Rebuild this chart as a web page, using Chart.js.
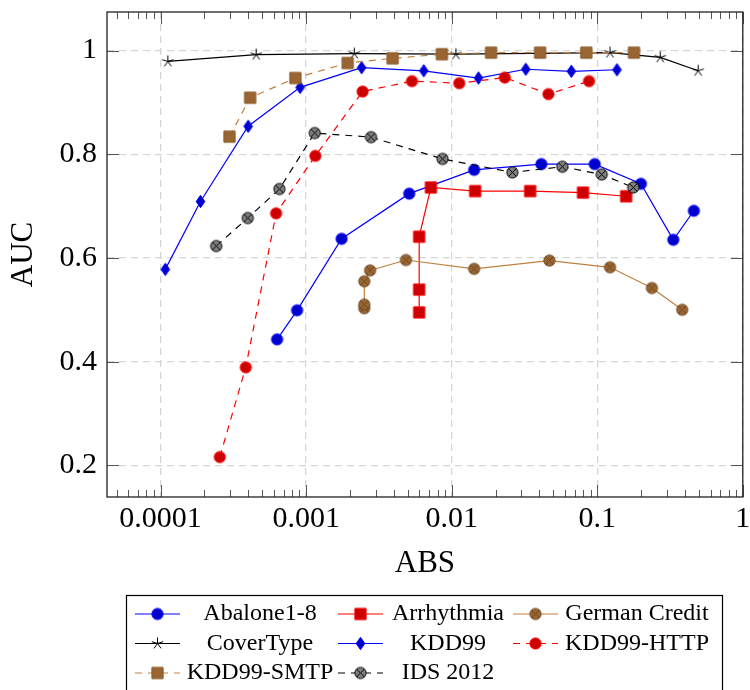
<!DOCTYPE html>
<html>
<head>
<meta charset="utf-8">
<title>AUC vs ABS</title>
<script src="https://cdn.jsdelivr.net/npm/chart.js@4.4.0/dist/chart.umd.min.js"></script>
<style>
  html, body { margin: 0; padding: 0; background: #fff; }
  canvas { display: block; }
</style>
</head>
<body>
<canvas id="chart" width="750" height="690"></canvas>
<script>
// ABS (x, log scale) and AUC (y) for each data set
const abaloneAbs = [6.32e-4, 8.67e-4, 1.753e-3, 5.11e-3, 0.01427, 0.0413, 0.0961, 0.1995, 0.333, 0.461];
const abaloneAuc = [0.443, 0.499, 0.637, 0.724, 0.770, 0.781, 0.781, 0.743, 0.635, 0.691];

const arrhythmiaAbs = [5.98e-3, 5.98e-3, 5.98e-3, 7.20e-3, 0.0145, 0.0346, 0.0798, 0.158];
const arrhythmiaAuc = [0.495, 0.539, 0.641, 0.736, 0.729, 0.729, 0.726, 0.719];

const germanAbs = [2.51e-3, 2.51e-3, 2.51e-3, 2.75e-3, 4.85e-3, 0.01427, 0.0469, 0.1224, 0.2374, 0.3834];
const germanAuc = [0.503, 0.510, 0.555, 0.576, 0.596, 0.579, 0.595, 0.582, 0.542, 0.500];

const coverAbs = [1.122e-4, 4.535e-4, 2.143e-3, 0.01069, 0.1224, 0.2708, 0.4935];
const coverAuc = [0.979, 0.992, 0.994, 0.993, 0.996, 0.987, 0.961];

const kddAbs = [1.077e-4, 1.88e-4, 3.996e-4, 9.09e-4, 2.405e-3, 6.43e-3, 0.01527, 0.0323, 0.0664, 0.1366];
const kddAuc = [0.578, 0.709, 0.854, 0.929, 0.967, 0.961, 0.947, 0.964, 0.960, 0.963];

const httpAbs = [2.552e-4, 3.848e-4, 6.22e-4, 1.157e-3, 2.443e-3, 5.33e-3, 0.01126, 0.02317, 0.0462, 0.0878];
const httpAuc = [0.216, 0.389, 0.686, 0.797, 0.921, 0.941, 0.937, 0.948, 0.916, 0.941];

const smtpAbs = [2.975e-4, 4.124e-4, 8.44e-4, 1.928e-3, 3.925e-3, 8.57e-3, 0.01866, 0.0405, 0.0841, 0.1787];
const smtpAuc = [0.834, 0.909, 0.947, 0.976, 0.985, 0.993, 0.996, 0.996, 0.996, 0.996];

const idsAbs = [2.411e-4, 3.972e-4, 6.555e-4, 1.145e-3, 2.791e-3, 8.65e-3, 0.02614, 0.0576, 0.1073, 0.1768];
const idsAuc = [0.623, 0.677, 0.733, 0.841, 0.833, 0.791, 0.765, 0.776, 0.761, 0.736];

const seriesNames = ['Abalone1-8', 'Arrhythmia', 'German Credit', 'CoverType', 'KDD99',
                     'KDD99-HTTP', 'KDD99-SMTP', 'IDS 2012'];

const xTickValues = [0.0001, 0.001, 0.01, 0.1, 1];
const xTickLabels = ['0.0001', '0.001', '0.01', '0.1', '1'];
const yTickValues = [0.2, 0.4, 0.6, 0.8, 1];
const yTickLabels = ['0.2', '0.4', '0.6', '0.8', '1'];
const minorMultipliers = [2, 3, 4, 5, 6, 7, 8, 9];

const serif = "'Liberation Serif', 'DejaVu Serif', serif";

// small canvases used as point markers (pgfplots-like marks)
function makeMarker(kind, fill, stroke) {
  const c = document.createElement('canvas');
  c.width = 17; c.height = 17;
  const g = c.getContext('2d');
  g.translate(8.5, 8.5);
  g.lineWidth = 1;
  g.fillStyle = fill;
  g.strokeStyle = stroke;
  g.beginPath();
  if (kind === 'circle') {
    g.arc(0, 0, 5.6, 0, Math.PI * 2);
    g.fill(); g.stroke();
  } else if (kind === 'square') {
    g.rect(-5.6, -5.6, 11.2, 11.2);
    g.fill(); g.stroke();
  } else if (kind === 'diamond') {
    g.moveTo(0, -6.2); g.lineTo(4.3, 0); g.lineTo(0, 6.2); g.lineTo(-4.3, 0); g.closePath();
    g.fill(); g.stroke();
  } else if (kind === 'star') {
    for (let k = 0; k < 5; k++) {
      const a = -Math.PI / 2 + k * 2 * Math.PI / 5;
      g.moveTo(0, 0);
      g.lineTo(6 * Math.cos(a), 6 * Math.sin(a));
    }
    g.stroke();
  } else if (kind === 'otimes') {
    g.arc(0, 0, 5.6, 0, Math.PI * 2);
    g.fill(); g.stroke();
    g.beginPath();
    g.moveTo(-3.9, -3.9); g.lineTo(3.9, 3.9);
    g.moveTo(-3.9, 3.9); g.lineTo(3.9, -3.9);
    g.stroke();
  }
  return c;
}

const blue = '#0000ff', red = '#ff0000', brown = '#bf8040';
const dashed = [7, 6];

const styles = [
  { color: blue,   dash: [], marker: makeMarker('circle', '#0000cc', blue) },
  { color: red,    dash: [], marker: makeMarker('square', '#cc0000', red) },
  { color: brown,  dash: [], marker: makeMarker('otimes', '#996633', '#6e4720') },
  { color: '#000', dash: [], marker: makeMarker('star', '#000', '#000') },
  { color: blue,   dash: [], marker: makeMarker('diamond', '#0000cc', blue) },
  { color: red,    dash: dashed, marker: makeMarker('circle', '#cc0000', red) },
  { color: brown,  dash: dashed, marker: makeMarker('square', '#996633', '#8a5a2a') },
  { color: '#000', dash: dashed, marker: makeMarker('otimes', '#808080', '#000') }
];

const seriesData = [
  [abaloneAbs, abaloneAuc], [arrhythmiaAbs, arrhythmiaAuc], [germanAbs, germanAuc],
  [coverAbs, coverAuc], [kddAbs, kddAuc], [httpAbs, httpAuc], [smtpAbs, smtpAuc], [idsAbs, idsAuc]
];

const datasets = seriesData.map(([xs, ys], i) => ({
  label: seriesNames[i],
  data: xs.map((x, j) => ({ x: x, y: ys[j] })),
  showLine: true,
  borderColor: styles[i].color,
  borderWidth: 1.2,
  borderDash: styles[i].dash,
  backgroundColor: styles[i].color,
  pointStyle: styles[i].marker,
  pointRadius: 6,
  pointHoverRadius: 6,
  tension: 0,
  fill: false,
  order: seriesData.length - i   // later series on top, like pgfplots
}));

// frame, inward tick marks and the boxed 3-column legend
const decorations = {
  id: 'decorations',
  afterDraw(chart) {
    const ctx = chart.ctx;
    const { left, right, top, bottom } = chart.chartArea;
    const xs = chart.scales.x, ys = chart.scales.y;
    ctx.save();
    ctx.strokeStyle = '#555';
    ctx.lineWidth = 1;
    ctx.beginPath();
    for (let d = -5; d <= 0; d++) {
      minorMultipliers.forEach(m => {
        const v = m * Math.pow(10, d);
        if (v <= xs.min || v >= xs.max) return;
        const px = Math.round(xs.getPixelForValue(v)) + 0.5;
        ctx.moveTo(px, bottom); ctx.lineTo(px, bottom - 7);
        ctx.moveTo(px, top); ctx.lineTo(px, top + 7);
      });
    }
    xTickValues.forEach(v => {
      const px = Math.round(xs.getPixelForValue(v)) + 0.5;
      ctx.moveTo(px, bottom); ctx.lineTo(px, bottom - 12);
      ctx.moveTo(px, top); ctx.lineTo(px, top + 12);
    });
    yTickValues.forEach(v => {
      const py = Math.round(ys.getPixelForValue(v)) + 0.5;
      ctx.moveTo(left, py); ctx.lineTo(left + 12, py);
      ctx.moveTo(right, py); ctx.lineTo(right - 12, py);
    });
    ctx.stroke();

    ctx.strokeStyle = '#222';
    ctx.lineWidth = 1.3;
    ctx.strokeRect(left, top, right - left, bottom - top);

    // legend
    ctx.strokeStyle = '#000';
    ctx.lineWidth = 1.2;
    ctx.strokeRect(126.5, 595.5, 596, 130);
    const sampleX = [135, 338, 513];
    const textX = [260, 448, 637];
    const rowY = [614, 643.5, 673];
    ctx.font = '24px ' + serif;
    ctx.textAlign = 'center';
    ctx.textBaseline = 'middle';
    seriesNames.forEach((name, i) => {
      const col = i % 3, row = Math.floor(i / 3);
      const x0 = sampleX[col], y = rowY[row];
      ctx.strokeStyle = styles[i].color;
      ctx.lineWidth = 1.2;
      ctx.setLineDash(styles[i].dash);
      ctx.beginPath();
      ctx.moveTo(x0, y); ctx.lineTo(x0 + 45, y);
      ctx.stroke();
      ctx.setLineDash([]);
      const mk = styles[i].marker;
      ctx.drawImage(mk, x0 + 22.5 - mk.width / 2, y - mk.height / 2);
      ctx.fillStyle = '#000';
      ctx.fillText(name, textX[col], y);
    });
    ctx.restore();
  }
};

function drawChart() {
  new Chart(document.getElementById('chart'), {
    type: 'scatter',
    data: { datasets: datasets },
    options: {
      responsive: false,
      animation: false,
      events: [],
      layout: { padding: { top: 12, right: 6, bottom: 107, left: 0 } },
      plugins: {
        legend: { display: false },
        title: { display: false },
        tooltip: { enabled: false }
      },
      scales: {
        x: {
          type: 'logarithmic',
          min: 4.285e-5,
          max: 1,
          afterBuildTicks: s => { s.ticks = xTickValues.map(v => ({ value: v, major: true })); },
          afterFit: s => { s.height = 86; s.paddingLeft = 0; s.paddingRight = 0; },
          ticks: {
            autoSkip: false,
            maxRotation: 0,
            padding: 4,
            color: '#000',
            font: { family: serif, size: 30 },
            callback: (v, i) => xTickLabels[i]
          },
          grid: { color: '#d6d6d6', lineWidth: 1.3, drawTicks: false },
          border: { display: false, dash: [7, 5] },
          title: {
            display: true, text: 'ABS', color: '#000',
            font: { family: serif, size: 31 },
            padding: { top: 0, bottom: 1 }
          }
        },
        y: {
          type: 'linear',
          min: 0.1389,
          max: 1.0744,
          afterBuildTicks: s => { s.ticks = yTickValues.map(v => ({ value: v })); },
          afterFit: s => { s.width = 107; s.paddingTop = 0; s.paddingBottom = 0; },
          ticks: {
            padding: 10,
            color: '#000',
            font: { family: serif, size: 30 },
            callback: (v, i) => yTickLabels[i]
          },
          grid: { color: '#d6d6d6', lineWidth: 1.3, drawTicks: false },
          border: { display: false, dash: [7, 5] },
          title: {
            display: true, text: 'AUC', color: '#000',
            font: { family: serif, size: 31 },
            padding: { top: 5, bottom: 0 }
          }
        }
      }
    },
    plugins: [decorations]
  });
}

// make sure the serif face is ready before the canvas text is drawn
Promise.all([
  document.fonts.load("30px 'Liberation Serif'"),
  document.fonts.load("24px 'Liberation Serif'")
]).catch(() => {}).then(drawChart);
</script>
</body>
</html>
